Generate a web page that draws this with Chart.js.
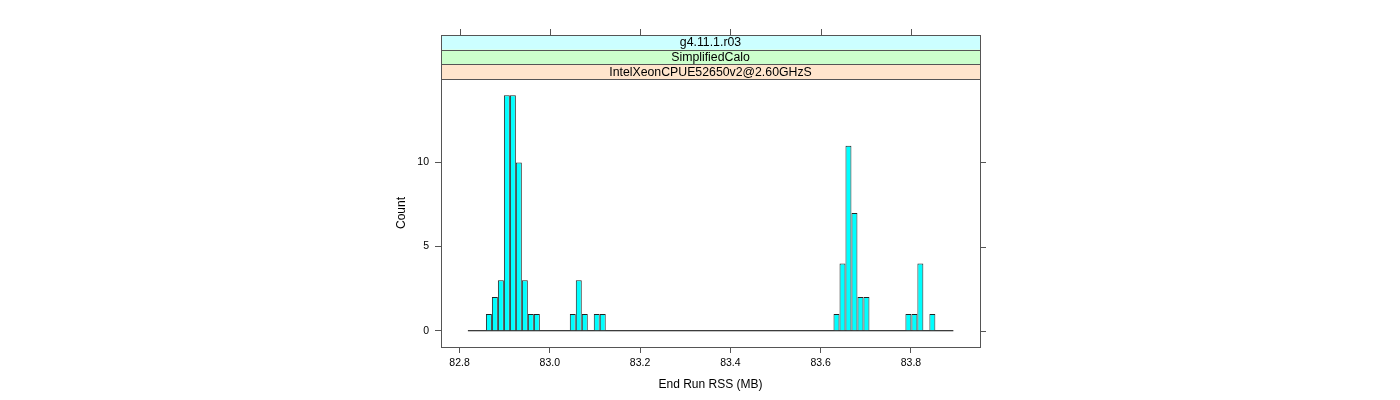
<!DOCTYPE html>
<html lang="en">
<head>
  <meta charset="UTF-8">
  <title>End Run RSS histogram</title>
  <script src="https://cdn.jsdelivr.net/npm/chart.js"></script>
  <style>
    body { margin: 0; background: #fff; }
  </style>
</head>
<body>
  <canvas id="chartCanvas" width="1400" height="400"></canvas>

  <script>
    // histogram bins that have counts (bin centres in MB)
    const binCenters = [
      82.8651, 82.8783, 82.8916, 82.9049, 82.9182, 82.9314, 82.9447, 82.9580, 82.9713,
      83.0509, 83.0642, 83.0775,
      83.1040, 83.1173,
      83.6351, 83.6484, 83.6616, 83.6749, 83.6882, 83.7015,
      83.7944, 83.8077, 83.8209,
      83.8475
    ];
    const counts = [
      1, 2, 3, 14, 14, 10, 3, 1, 1,
      1, 3, 1,
      1, 1,
      1, 4, 11, 7, 2, 2,
      1, 1, 4,
      1
    ];
    const breakRange = [82.8186, 83.894];
    const xTicks = [82.8, 83.0, 83.2, 83.4, 83.6, 83.8];
    const yTicks = [0, 5, 10];
    const xLimits = [82.759, 83.953];
    const yLimits = [-0.966, 14.96];
    // strips listed top to bottom
    const stripLabels = ['g4.11.1.r03', 'SimplifiedCalo', 'IntelXeonCPUE52650v2@2.60GHzS'];
    const stripColors = ['#ccffff', '#ccffcc', '#ffe5cc'];

    const FONT = "'Liberation Sans', Arial, Helvetica, sans-serif";
    const boxColor = '#555';
    const stripH = 14.67;

    // strips, top/right ticks and the panel box (lattice style)
    const latticeFrame = {
      id: 'latticeFrame',
      afterDraw(chart) {
        const { ctx, chartArea: a, scales } = chart;
        const top = a.top - stripH * stripLabels.length;
        ctx.save();
        ctx.font = '12.3px ' + FONT;
        ctx.textAlign = 'center';
        ctx.textBaseline = 'middle';
        stripLabels.forEach((lab, i) => {
          const y0 = top + i * stripH;
          ctx.fillStyle = stripColors[i];
          ctx.fillRect(a.left, y0, a.right - a.left, stripH);
          ctx.strokeStyle = boxColor;
          ctx.lineWidth = 1;
          ctx.strokeRect(a.left + 0.5, Math.round(y0) + 0.5, a.right - a.left, Math.round(stripH));
          ctx.fillStyle = '#000';
          ctx.fillText(lab, (a.left + a.right) / 2, y0 + stripH / 2 + 0.5);
        });
        ctx.strokeStyle = boxColor;
        ctx.strokeRect(a.left + 0.5, Math.round(top) + 0.5, a.right - a.left, a.bottom - Math.round(top));
        ctx.beginPath();
        xTicks.forEach(v => {
          const x = Math.round(scales.x.getPixelForValue(v)) + 0.5;
          ctx.moveTo(x, Math.round(top));
          ctx.lineTo(x, Math.round(top) - 6);
        });
        yTicks.forEach(v => {
          const y = Math.round(scales.y.getPixelForValue(v)) + 0.5;
          ctx.moveTo(a.right, y);
          ctx.lineTo(a.right + 6, y);
        });
        ctx.stroke();
        ctx.restore();
      }
    };

    const ctx = document.getElementById('chartCanvas').getContext('2d');
    new Chart(ctx, {
      type: 'bar',
      data: {
        datasets: [
          {
            type: 'bar',
            data: binCenters.map((x, i) => ({ x: x, y: counts[i] })),
            backgroundColor: '#00ffff',
            borderColor: '#222',
            borderWidth: 1,
            borderSkipped: 'bottom',
            categoryPercentage: 1,
            barPercentage: 1,
            inflateAmount: 0
          },
          {
            type: 'line',
            data: breakRange.map(x => ({ x: x, y: 0 })),
            borderColor: '#000',
            borderWidth: 1,
            pointRadius: 0
          }
        ]
      },
      options: {
        responsive: false,
        animation: false,
        devicePixelRatio: 1,
        layout: { padding: { left: 390, right: 420, top: 79, bottom: 0 } },
        plugins: { legend: { display: false }, tooltip: { enabled: false } },
        scales: {
          x: {
            type: 'linear',
            position: 'bottom',
            offset: false,
            min: xLimits[0],
            max: xLimits[1],
            afterBuildTicks: s => { s.ticks = xTicks.map(v => ({ value: v })); },
            afterFit: s => { s.height = 53; },
            ticks: {
              font: { family: FONT, size: 10.5 },
              color: '#000',
              padding: 4,
              maxRotation: 0,
              autoSkip: false,
              callback: v => v.toFixed(1)
            },
            grid: { offset: false, drawOnChartArea: false, drawTicks: true, tickLength: 6, color: boxColor },
            border: { display: true, color: boxColor },
            title: {
              display: true,
              text: 'End Run RSS (MB)',
              font: { family: FONT, size: 12 },
              color: '#000',
              padding: { top: 0, bottom: 8 }
            }
          },
          y: {
            type: 'linear',
            position: 'left',
            min: yLimits[0],
            max: yLimits[1],
            afterBuildTicks: s => { s.ticks = yTicks.map(v => ({ value: v })); },
            afterFit: s => { s.width = 51; },
            ticks: {
              font: { family: FONT, size: 10.5 },
              color: '#000',
              padding: 6
            },
            grid: { drawOnChartArea: false, drawTicks: true, tickLength: 6, color: boxColor },
            border: { display: true, color: boxColor },
            title: {
              display: true,
              text: 'Count',
              font: { family: FONT, size: 12 },
              color: '#000',
              padding: { top: 4.8, bottom: 0 }
            }
          }
        }
      },
      plugins: [latticeFrame]
    });
  </script>
</body>
</html>
